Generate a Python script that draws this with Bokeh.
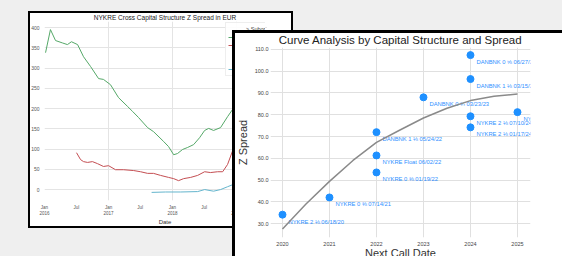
import pandas as pd
from bokeh.plotting import figure
from bokeh.models import FixedTicker, Range1d, ColumnDataSource, PrintfTickFormatter, Spacer, GridBox
from bokeh.embed import file_html
from bokeh.resources import INLINE
from bokeh.core.properties import value

# ---------------- Left chart data (Z spread history, EUR) ----------------
green_dates = ["2016-01-07", "2016-02-04", "2016-03-04", "2016-04-13", "2016-05-11", "2016-06-03",
               "2016-07-08", "2016-08-11", "2016-09-20", "2016-11-05", "2016-12-03", "2017-01-12",
               "2017-02-27", "2017-04-20", "2017-05-18", "2017-06-21", "2017-08-12", "2017-09-15",
               "2017-11-11", "2017-12-10", "2018-01-08", "2018-01-30", "2018-02-28", "2018-03-29",
               "2018-05-02", "2018-06-05", "2018-07-04", "2018-07-27", "2018-08-24", "2018-10-03",
               "2018-11-12", "2018-12-11", "2018-12-31"]
green_vals = [338, 395, 368, 362, 358, 365, 358, 328, 304, 274, 272, 259, 227, 205, 193, 178, 153, 143,
              119, 106, 86, 89, 99, 104, 111, 128, 146, 151, 146, 153, 180, 198, 225]

red_dates = ["2016-07-02", "2016-07-25", "2016-08-11", "2016-09-03", "2016-10-01", "2016-10-30",
             "2016-12-03", "2017-01-01", "2017-02-10", "2017-03-28", "2017-05-24", "2017-07-03",
             "2017-08-12", "2017-09-15", "2017-10-25", "2017-12-10", "2018-01-08", "2018-02-05",
             "2018-03-06", "2018-04-15", "2018-05-25", "2018-07-04", "2018-08-07", "2018-09-16",
             "2018-10-15", "2018-11-12", "2018-12-11"]
red_vals = [91, 74, 69, 67, 69, 64, 57, 59, 49, 49, 47, 44, 40, 40, 35, 30, 27, 22, 27, 30, 35, 44, 42,
            44, 44, 62, 96]

cyan_dates = ["2017-09-04", "2017-11-23", "2018-02-17", "2018-05-25", "2018-07-04", "2018-08-24",
              "2018-10-03", "2018-11-12", "2018-12-11"]
cyan_vals = [-7, -6, -6, -5, 0, -4, 0, 7, 12]

legend_labels = ["> Subordination", "AT1", "Tier 2", "SNP", "Senior", "Covered"]
legend_colors = ["#a9b9d9", "#55a868", "#c44e52", "#6a5fb0", "#ccb974", "#64b5cd"]

left_ytick_values = [0, 50, 100, 150, 200, 250, 300, 350, 400]
left_xtick_dates = ["2016-01-01", "2016-07-01", "2017-01-01", "2017-07-01", "2018-01-01", "2018-07-01",
                    "2019-01-01", "2019-07-01"]
left_xtick_labels = ["Jan\n2016", "Jul", "Jan\n2017", "Jul", "Jan\n2018", "Jul", "Jan\n2019", "Jul"]

# ---------------- Right chart data (curve analysis) ----------------
call_year = [2020, 2021, 2022, 2022, 2022, 2023, 2024, 2024, 2024, 2024, 2025]
z_spread = [34.1, 42.0, 72.0, 61.3, 53.5, 88.0, 107.4, 96.4, 79.3, 74.2, 81.2]
bond_names = ["NYKRE 2 \u215b 06/18/20", "NYKRE 0 \u215c 07/14/21", "DANBNK 1 \u215b 05/24/22",
              "NYKRE Float 06/02/22", "NYKRE 0 \u215c 01/19/22", "DANBNK 0 \u00be 03/23/23",
              "DANBNK 0 \u215d 06/27/25", "DANBNK 1 \u215b 03/15/24", "NYKRE 2 \u215b 07/10/24",
              "NYKRE 2 \u215b 01/17/24", "NYKRE 0 \u215c 01/15/25"]

curve_year = [2020, 2020.5, 2021, 2021.5, 2022, 2022.5, 2023, 2023.5, 2024, 2024.5, 2025]
curve_spread = [27.5, 39.0, 49.4, 59.0, 67.3, 73.0, 78.5, 83.0, 86.5, 88.5, 89.5]

right_xticks = [2020, 2021, 2022, 2023, 2024, 2025]
right_yticks = [30, 40, 50, 60, 70, 80, 90, 100, 110]

FONT = "Liberation Sans"


def ms(d):
    return pd.Timestamp(d).value // 10**6


def style_axis(ax, tick_size, label_size, tick_color, label_std, axis_std):
    ax.major_label_text_font = FONT
    ax.major_label_text_font_size = tick_size
    ax.major_label_text_color = tick_color
    ax.axis_line_color = None
    ax.major_tick_line_color = None
    ax.minor_tick_line_color = None
    ax.major_tick_out = 0
    ax.major_tick_in = 0
    ax.minor_tick_out = 0
    ax.minor_tick_in = 0
    ax.major_label_standoff = label_std
    ax.axis_label_text_font = FONT
    ax.axis_label_text_font_size = label_size
    ax.axis_label_text_font_style = "normal"
    ax.axis_label_text_color = "#333333"
    ax.axis_label_standoff = axis_std


# ---------------- Left figure ----------------
left = figure(frame_width=241, frame_height=179, x_axis_type="datetime", output_backend="svg",
              toolbar_location=None,
              x_range=Range1d(ms("2016-01-01"), ms("2019-10-09")), y_range=Range1d(-27, 415),
              title="NYKRE Cross Capital Structure Z Spread in EUR",
              min_border_left=14, min_border_right=6, min_border_top=9, min_border_bottom=32)
left.title.text_font = FONT
left.title.text_font_size = "6.5px"
left.title.text_font_style = "normal"
left.title.text_color = "#222222"
left.title.align = "center"
left.title.standoff = 1
left.background_fill_color = "white"
left.border_fill_alpha = 0
left.outline_line_color = None

series = {
    1: (green_dates, green_vals),
    2: (red_dates, red_vals),
    5: (cyan_dates, cyan_vals),
}
for i, (lab, col) in enumerate(zip(legend_labels, legend_colors)):
    if i in series:
        d, v = series[i]
        left.line(x=pd.to_datetime(d), y=v, color=col, line_width=1, legend_label=lab)
    else:
        left.line(x=pd.to_datetime([]), y=[], color=col, line_width=1, legend_label=lab)

xt = [ms(d) for d in left_xtick_dates]
left.xaxis.ticker = FixedTicker(ticks=xt)
left.xaxis.major_label_overrides = {t: l for t, l in zip(xt, left_xtick_labels)}
left.xgrid.ticker = FixedTicker(ticks=[t for t, l in zip(xt, left_xtick_labels) if l.startswith("Jan")])
left.yaxis.ticker = FixedTicker(ticks=left_ytick_values)
left.xaxis.axis_label = "Date"
style_axis(left.xaxis[0], "4.5px", "6px", "#555555", 4, 0)
style_axis(left.yaxis[0], "5px", "6px", "#555555", 5, 0)
left.grid.grid_line_color = "#e4e4e4"
left.grid.grid_line_width = 1

left.legend.location = (203, 124)
left.legend.label_text_font = FONT
left.legend.label_text_font_size = "5.5px"
left.legend.label_height = 8
left.legend.glyph_height = 8
left.legend.glyph_width = 13
left.legend.spacing = 0
left.legend.padding = 2
left.legend.margin = 0
left.legend.label_standoff = 5
left.legend.border_line_color = "#dddddd"
left.legend.background_fill_alpha = 0.9

# ---------------- Right figure ----------------
right = figure(frame_width=260, frame_height=190, output_backend="svg", toolbar_location=None,
               x_range=Range1d(2019.745, 2025.277), y_range=Range1d(23.6, 110.9),
               title="Curve Analysis by Capital Structure and Spread",
               min_border_left=40, min_border_right=42, min_border_top=17, min_border_bottom=33)
right.title.text_font = FONT
right.title.text_font_size = "11.5px"
right.title.text_font_style = "normal"
right.title.text_color = "#222222"
right.title.align = "center"
right.title.standoff = 3
right.background_fill_color = "white"
right.border_fill_alpha = 0
right.outline_line_color = None

src = ColumnDataSource(dict(x=call_year, y=z_spread, name=bond_names))
right.scatter(x="x", y="y", source=src, size=7, color="#1e90ff")
right.text(x="x", y="y", text="name", source=src, x_offset=6, y_offset=7,
           text_font=value(FONT), text_font_size="5.8px", text_color="#2f8fff",
           text_baseline="middle", text_align="left")
right.line(x=curve_year, y=curve_spread, color="#8a8a8a", line_width=1.5)

right.xaxis.ticker = FixedTicker(ticks=right_xticks)
right.yaxis.ticker = FixedTicker(ticks=right_yticks)
right.yaxis.formatter = PrintfTickFormatter(format="%.1f")
right.xaxis.axis_label = "Next Call Date"
right.yaxis.axis_label = "Z Spread"
style_axis(right.xaxis[0], "5.5px", "11px", "#444444", 4, -2)
style_axis(right.yaxis[0], "5.5px", "11px", "#444444", 2, 3)
right.grid.grid_line_color = "#e0e0e0"
right.grid.grid_line_width = 1

# framed "cards" behind each chart (black frame + white body)
black_l = Spacer(width=265, height=217, margin=(11, 0, 0, 28), styles={"background-color": "#000000"})
white_l = Spacer(width=261, height=213, margin=(13, 0, 0, 30), styles={"background-color": "#ffffff"})
black_r = Spacer(width=340, height=240, margin=(30, 0, 0, 232), styles={"background-color": "#000000"})
white_r = Spacer(width=337, height=237, margin=(33, 0, 0, 235), styles={"background-color": "#ffffff"})
left.margin = (4, 0, 0, 4)
right.margin = (30, 0, 0, 230)

p = GridBox(children=[(black_l, 0, 0), (white_l, 0, 0), (left, 0, 0),
                      (black_r, 0, 0), (white_r, 0, 0), (right, 0, 0)],
            width=562, height=256,
            styles={"background-color": "#efefef", "overflow": "hidden"})

open("out.html", "w").write(file_html(p, INLINE))
